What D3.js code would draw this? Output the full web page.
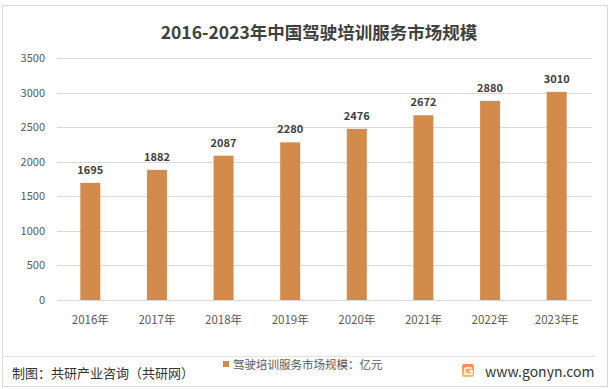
<!DOCTYPE html>
<html>
<head>
<meta charset="utf-8">
<script src="https://cdn.jsdelivr.net/npm/d3@7"></script>
<style>
  body { margin: 0; background: #fff; }
  text { font-family: "Noto Sans CJK SC", "Noto Sans", sans-serif; }
</style>
</head>
<body>
<div id="chart"></div>
<script>
// data
const years = ["2016年", "2017年", "2018年", "2019年", "2020年", "2021年", "2022年", "2023年E"];
const values = [1695, 1882, 2087, 2280, 2476, 2672, 2880, 3010];
const yTicks = [0, 500, 1000, 1500, 2000, 2500, 3000, 3500];

const width = 611, height = 389;
const barColor = "#d38b4b";

const svg = d3.select("#chart")
  .append("svg")
  .attr("width", width)
  .attr("height", height);

// outer frame
svg.append("rect")
  .attr("x", 2.5).attr("y", 5.5)
  .attr("width", 605).attr("height", 381)
  .attr("fill", "#fff")
  .attr("stroke", "#d9d9d9");

svg.append("text")
  .attr("x", 319).attr("y", 39)
  .attr("text-anchor", "middle")
  .attr("font-size", 17.5)
  .attr("font-weight", "bold")
  .attr("fill", "#404040")
  .text("2016-2023年中国驾驶培训服务市场规模");

const x = d3.scaleBand()
  .domain(years)
  .range([57, 590])
  .paddingInner(0.7)
  .paddingOuter(0.35);

const y = d3.scaleLinear()
  .domain([0, 3500])
  .range([300, 58]);

// gridlines
svg.append("g")
  .selectAll("line")
  .data(yTicks)
  .join("line")
  .attr("x1", 57).attr("x2", 592)
  .attr("y1", d => Math.round(y(d)) + 0.5)
  .attr("y2", d => Math.round(y(d)) + 0.5)
  .attr("stroke", "#d9d9d9");

// y labels
svg.append("g")
  .selectAll("text")
  .data(yTicks)
  .join("text")
  .attr("x", 45)
  .attr("y", d => y(d) + 4)
  .attr("text-anchor", "end")
  .attr("font-size", 11)
  .attr("fill", "#595959")
  .text(d => d);

// bars
svg.append("g")
  .selectAll("rect")
  .data(values)
  .join("rect")
  .attr("x", (d, i) => x(years[i]))
  .attr("y", d => y(d))
  .attr("width", x.bandwidth())
  .attr("height", d => y(0) - y(d))
  .attr("fill", barColor);

// value labels
svg.append("g")
  .selectAll("text")
  .data(values)
  .join("text")
  .attr("x", (d, i) => x(years[i]) + x.bandwidth() / 2)
  .attr("y", d => y(d) - 9)
  .attr("text-anchor", "middle")
  .attr("font-size", 11)
  .attr("font-weight", "bold")
  .attr("fill", "#404040")
  .text(d => d);

// x labels
svg.append("g")
  .selectAll("text")
  .data(years)
  .join("text")
  .attr("x", d => x(d) + x.bandwidth() / 2)
  .attr("y", 324)
  .attr("text-anchor", "middle")
  .attr("font-size", 11.5)
  .attr("fill", "#595959")
  .text(d => d);

// separator line above footer
svg.append("line")
  .attr("x1", 5).attr("x2", 595)
  .attr("y1", 356.5).attr("y2", 356.5)
  .attr("stroke", "#e3e3e3");

// legend
svg.append("rect")
  .attr("x", 223).attr("y", 361)
  .attr("width", 6).attr("height", 6)
  .attr("fill", barColor);
svg.append("text")
  .attr("x", 233).attr("y", 369)
  .attr("font-size", 11.5)
  .attr("fill", "#595959")
  .text("驾驶培训服务市场规模：亿元");

// footer
svg.append("text")
  .attr("x", 12).attr("y", 378)
  .attr("font-size", 13)
  .attr("fill", "#333")
  .text("制图：共研产业咨询（共研网）");

const grad = svg.append("defs").append("linearGradient")
  .attr("id", "logo").attr("x1", 0).attr("y1", 0).attr("x2", 0).attr("y2", 1);
grad.append("stop").attr("offset", 0).attr("stop-color", "#f58a4a");
grad.append("stop").attr("offset", 1).attr("stop-color", "#f9c07a");
svg.append("rect")
  .attr("x", 462).attr("y", 364)
  .attr("width", 12).attr("height", 13)
  .attr("rx", 2)
  .attr("fill", "url(#logo)");
svg.append("path")
  .attr("d", "M465,368 H472 M465,368 V374 H472 V371 H469")
  .attr("fill", "none")
  .attr("stroke", "#fff")
  .attr("stroke-width", 1.4);

svg.append("text")
  .attr("x", 485).attr("y", 377)
  .attr("font-size", 14)
  .attr("fill", "#333")
  .text("www.gonyn.com");
</script>
</body>
</html>
